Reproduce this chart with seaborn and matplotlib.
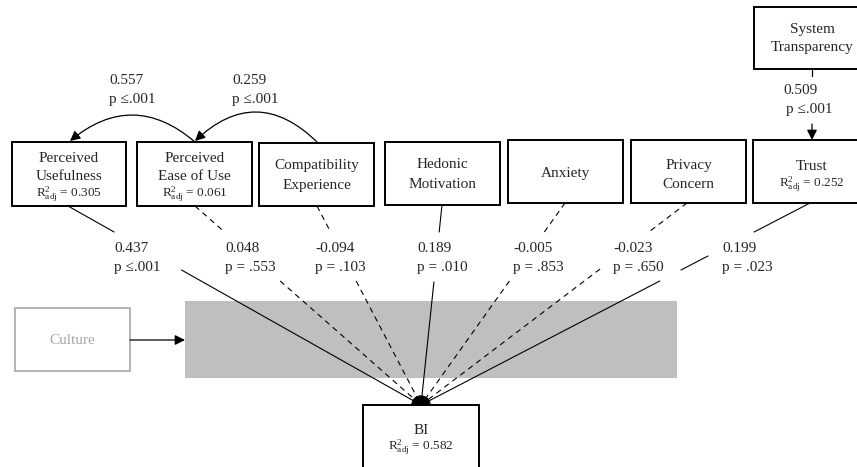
import matplotlib
matplotlib.use("Agg")
import matplotlib.pyplot as plt
import seaborn as sns
from matplotlib.patches import Rectangle, FancyArrowPatch, Wedge

# ---------------- data ----------------
predictors = ["Perceived\nUsefulness", "Perceived\nEase of Use", "Compatibility\nExperience",
              "Hedonic\nMotivation", "Anxiety", "Privacy\nConcern", "Trust"]
coef_bi = [0.437, 0.048, -0.094, 0.189, -0.005, -0.023, 0.199]
p_bi = ["p \u2264.001", "p = .553", "p = .103", "p = .010", "p = .853", "p = .650", "p = .023"]
significant = [True, False, False, True, False, False, True]
r2_adj = {"Perceived\nUsefulness": 0.305, "Perceived\nEase of Use": 0.061, "Trust": 0.252, "BI": 0.582}
arc_coef = [0.557, 0.259]          # PEOU -> PU, Compatibility -> PEOU
arc_p = ["p \u2264.001", "p \u2264.001"]
st_coef = 0.509                     # System Transparency -> Trust
st_p = "p \u2264.001"
outcome = "BI"
moderator = "Culture"
source_top = "System\nTransparency"

# ---------------- layout ----------------
box_x = [12, 137, 259, 385, 508, 631, 753]
box_w = [114, 115, 115, 115, 115, 115, 118]
box_top = [142, 142, 143, 142, 140, 140, 140]
box_bot = [206, 206, 206, 205, 203, 203, 203]
start_x = [68, 195, 317, 442, 565, 687, 810]
label_x = [114, 225, 315, 417, 513, 613, 722]
gaps = [[(232, 270)], [(232, 281)], [(232, 281)], [(232, 282)], [(232, 281)],
        [(232, 269)], [(232, 256), (270, 281)]]
bi_pt = (421, 405)

sns.set_theme(style="white")
plt.rcParams["font.family"] = ["Liberation Serif", "DejaVu Serif"]
plt.rcParams["mathtext.fontset"] = "custom"
plt.rcParams["mathtext.rm"] = "Liberation Serif"
plt.rcParams["mathtext.it"] = "Liberation Serif:italic"

fig = plt.figure(figsize=(8.57, 4.67), dpi=100)
ax = fig.add_axes([0, 0, 1, 1])
ax.set_xlim(0, 857)
ax.set_ylim(467, 0)
ax.axis("off")

FS = 11
FS_R = 9.5
LW = 1.4


def r2_text(v):
    return r"$\mathrm{R}^{2}_{\mathrm{adj}}$" + f" = {v:.3f}"


def arrow(p0, p1, rad=0.0, color="black"):
    a = FancyArrowPatch(p0, p1, connectionstyle=f"arc3,rad={rad}",
                        arrowstyle="-|>,head_length=0.6,head_width=0.3",
                        mutation_scale=10, lw=0.9, color=color,
                        shrinkA=0, shrinkB=0, zorder=4)
    ax.add_patch(a)


# gray moderator band
ax.add_patch(Rectangle((185, 301), 492, 77, fc="#bfbfbf", ec="none", zorder=1))

# Culture box
ax.add_patch(Rectangle((15, 308), 115, 63, fc="white", ec="#b3b3b3", lw=LW, zorder=3))
ax.text(72, 340, moderator, ha="center", va="center", fontsize=FS, color="#a6a6a6", zorder=5)
arrow((130, 340), (185, 340))

# predictor boxes
for i, name in enumerate(predictors):
    x, w, t, b = box_x[i], box_w[i], box_top[i], box_bot[i]
    ax.add_patch(Rectangle((x, t), w, b - t, fc="white", ec="black", lw=LW, zorder=3))
    cx = x + w / 2 if name != "Trust" else 812
    if name in r2_adj:
        if "\n" in name:
            l1, l2 = name.split("\n")
            ax.text(cx, 158, l1, ha="center", va="center", fontsize=FS, zorder=5)
            ax.text(cx, 177, l2, ha="center", va="center", fontsize=FS, zorder=5)
            ax.text(cx, 195, r2_text(r2_adj[name]), ha="center", va="center", fontsize=FS_R, zorder=5)
        else:
            ax.text(cx, 166, name, ha="center", va="center", fontsize=FS, zorder=5)
            ax.text(cx, 185, r2_text(r2_adj[name]), ha="center", va="center", fontsize=FS_R, zorder=5)
    else:
        if "\n" in name:
            l1, l2 = name.split("\n")
            ax.text(cx, 165, l1, ha="center", va="center", fontsize=FS, zorder=5)
            ax.text(cx, 185, l2, ha="center", va="center", fontsize=FS, zorder=5)
        else:
            ax.text(cx, 173, name, ha="center", va="center", fontsize=FS, zorder=5)

# System Transparency box (clipped at right)
ax.add_patch(Rectangle((754, 7), 118, 62, fc="white", ec="black", lw=LW, zorder=3))
l1, l2 = source_top.split("\n")
ax.text(812, 30, l1, ha="center", va="center", fontsize=FS, zorder=5)
ax.text(812, 48, l2, ha="center", va="center", fontsize=FS, zorder=5)
ax.plot([812, 812], [69, 76], color="black", lw=0.9, zorder=4)
arrow((812, 124), (812, 140))
ax.text(783, 91, f"{st_coef:.3f}", ha="left", va="center", fontsize=FS, zorder=5)
ax.text(786, 110, st_p, ha="left", va="center", fontsize=FS, zorder=5)

# BI box
ax.add_patch(Rectangle((363, 405), 116, 80, fc="white", ec="black", lw=LW, zorder=3))
ax.text(421, 430, outcome, ha="center", va="center", fontsize=FS, zorder=5)
ax.text(421, 448, r2_text(r2_adj["BI"]), ha="center", va="center", fontsize=FS_R, zorder=5)
ax.add_patch(Wedge(bi_pt, 9, 180, 360, fc="black", ec="black", zorder=6))

# paths to BI
for i in range(len(predictors)):
    x0, y0 = start_x[i], box_bot[i]
    x1, y1 = bi_pt

    def xat(y):
        return x0 + (x1 - x0) * (y - y0) / (y1 - y0)

    ys = [y0]
    for g0, g1 in gaps[i]:
        ys += [g0, g1]
    ys.append(y1)
    ls = "-" if significant[i] else (0, (5, 4))
    for k in range(0, len(ys), 2):
        ya, yb = ys[k], ys[k + 1]
        ax.plot([xat(ya), xat(yb)], [ya, yb], color="black", lw=0.8, ls=ls, zorder=2)
    ax.text(label_x[i], 248, f"{coef_bi[i]:.3f}", ha="left", va="center", fontsize=FS, zorder=5)
    ax.text(label_x[i], 268, p_bi[i], ha="left", va="center", fontsize=FS, zorder=5)

# curved arrows among predictors
arrow((195, 142), (70, 141), rad=0.42)
arrow((317, 142), (195, 141), rad=0.48)
ax.text(109, 81, f"{arc_coef[0]:.3f}", ha="left", va="center", fontsize=FS, zorder=5)
ax.text(109, 100, arc_p[0], ha="left", va="center", fontsize=FS, zorder=5)
ax.text(232, 81, f"{arc_coef[1]:.3f}", ha="left", va="center", fontsize=FS, zorder=5)
ax.text(232, 100, arc_p[1], ha="left", va="center", fontsize=FS, zorder=5)

fig.savefig("out.png", dpi=100)
